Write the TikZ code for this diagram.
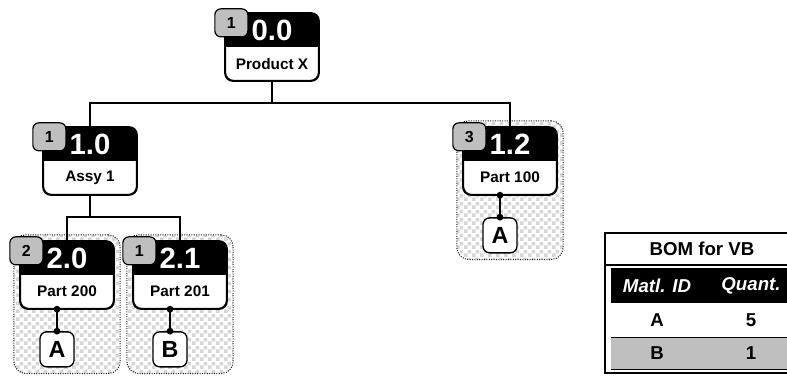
\documentclass[tikz,border=0pt]{standalone}
\usepackage{fontspec}
\setmainfont{Liberation Sans}
\usetikzlibrary{arrows.meta,positioning,fit,patterns,backgrounds}
\pgfdeclarepatternformonly{bigcheck}{\pgfpointorigin}{\pgfqpoint{6pt}{6pt}}{\pgfqpoint{6pt}{6pt}}{%
  \pgfpathrectangle{\pgfpointorigin}{\pgfqpoint{3pt}{3pt}}%
  \pgfpathrectangle{\pgfqpoint{3pt}{3pt}}{\pgfqpoint{3pt}{3pt}}%
  \pgfusepath{fill}}
\tikzset{
  partbox/.style={
    draw,
    line width=1pt,
    rounded corners=6pt,
    fill=white,
    minimum width=69.75pt,
    minimum height=50.25pt,
    inner sep=0pt
  },
  nrtext/.style={
    text=white,
    inner sep=0pt,
    font=\fontsize{22}{22}\selectfont\bfseries
  },
  lbl/.style={
    inner sep=0pt,
    font=\fontsize{11.5}{12}\selectfont\bfseries
  },
  badge/.style={
    draw,
    line width=0.9pt,
    fill=black!25,
    rounded corners=4.5pt,
    minimum width=24.75pt,
    minimum height=21pt,
    inner sep=0pt,
    font=\fontsize{12}{12}\selectfont\bfseries
  },
  matl/.style={
    draw,
    line width=1pt,
    fill=white,
    rounded corners=5pt,
    minimum width=25.5pt,
    minimum height=26.25pt,
    inner sep=0pt,
    font=\fontsize{17.5}{17.5}\selectfont\bfseries
  },
  group/.style={
    draw=black!85,
    densely dotted,
    line width=0.8pt,
    rounded corners=9pt,
    pattern=bigcheck,
    pattern color=black!16,
    inner sep=4.5pt
  },
  tree/.style={
    line width=1.1pt
  },
  matlink/.style={
    {Circle[length=5pt]}-{Circle[length=5pt]},
    line width=1.1pt,
    shorten <=-2.5pt,
    shorten >=-2.5pt
  },
  tabtext/.style={
    inner sep=0pt,
    font=\fontsize{14}{14}\selectfont\bfseries
  }
}
\begin{document}
\begin{tikzpicture}[x=0.75pt, y=-0.75pt, node distance=16.5pt]
\useasboundingbox (0,0) rectangle (787,376);

% part boxes: black number on top, name below, quantity badge
\foreach \nd/\pos/\cnt/\nr/\lab in {n00/{272,47}/1/0.0/Product X,
    n10/{90,161}/1/1.0/Assy 1, n12/{510,161}/3/1.2/Part 100,
    n20/{67,275}/2/2.0/Part 200, n21/{180,275}/1/2.1/Part 201}{
  \node[partbox] (\nd) at (\pos) {};
  \begin{scope}
    \clip[rounded corners=6pt] (\nd.south west) rectangle (\nd.north east);
    \fill (\nd.west) rectangle (\nd.north east);
  \end{scope}
  \draw[line width=1pt, rounded corners=6pt] (\nd.south west) rectangle (\nd.north east);
  \node[nrtext] at ([yshift=12.5pt]\nd.center) {\nr};
  \node[lbl] at ([yshift=-12.5pt]\nd.center) {\lab};
  \node[badge] (\nd q) at ([xshift=4.9pt, yshift=-7.5pt]\nd.north west) {\cnt};
}

% materials
\node[matl, below=of n12.south, xshift=-7.5pt] (m12) {A};
\node[matl, below=of n20.south, xshift=-7.5pt] (m20) {A};
\node[matl, below=of n21.south, xshift=-7.5pt] (m21) {B};

\draw[matlink] (m12.north |- n12.south) -- (m12.north);
\draw[matlink] (m20.north |- n20.south) -- (m20.north);
\draw[matlink] (m21.north |- n21.south) -- (m21.north);

% dotted groups behind the leaves
\begin{scope}[on background layer]
  \node[group, fit=(n12)(m12)] (g12) {};
  \node[group, fit=(n20)(m20)] (g20) {};
  \node[group, fit=(n21)(m21)] (g21) {};
\end{scope}

% tree
\coordinate (bar0) at (272,103);
\coordinate (bar1) at (90,217);
\draw[tree] (n00.south) -- (bar0);
\draw[tree] (bar0) -| (n10.north);
\draw[tree] (bar0) -| (n12.north);
\draw[tree] (n10.south) -- (bar1);
\draw[tree] (bar1) -| (n20.north);
\draw[tree] (bar1) -| (n21.north);

% BOM table
\draw[line width=0.8pt] (605,233) rectangle (800,373);
\node[tabtext] (bomtitle) at (702,249) {BOM for VB};
\draw[line width=0.8pt] (605,265) -- (800,265);
\fill (611,268) rectangle (800,303);
\node[tabtext, text=white] (hid) at (657,286) {\itshape Matl. ID};
\node[tabtext, text=white] (hqt) at (751,286) {\itshape Quant.};
\node[tabtext] (ida) at (657,320) {A};
\node[tabtext] (qta) at (751,320) {5};
\fill[black!25] (611,337) rectangle (800,369);
\draw[line width=0.7pt] (611,337) -- (800,337);
\draw[line width=0.7pt] (611,369) -- (800,369);
\node[tabtext] (idb) at (657,353) {B};
\node[tabtext] (qtb) at (751,353) {1};
\end{tikzpicture}
\end{document}
